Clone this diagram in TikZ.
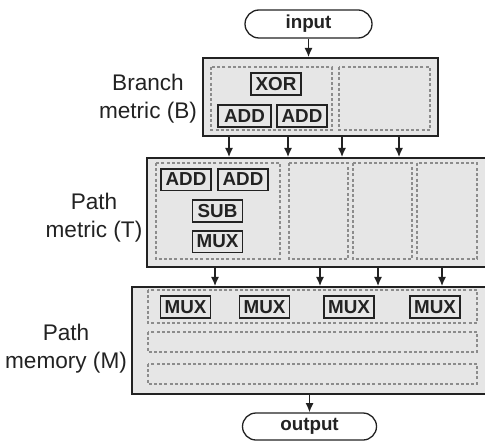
\documentclass[tikz,border=0pt]{standalone}
\usepackage{fontspec}
\setmainfont{Liberation Sans}
\usetikzlibrary{arrows.meta,shapes.misc}
\definecolor{boxfill}{HTML}{E6E6E6}
\definecolor{dashgray}{HTML}{8C8C8C}
\definecolor{ink}{HTML}{222222}
\tikzset{
  bigbox/.style={draw=ink, line width=0.85pt, fill=boxfill, inner sep=0pt, anchor=center},
  dbox/.style={draw=dashgray, line width=0.85pt, dash pattern=on 1.5pt off 1.1pt},
  unitbox/.style={draw=ink, line width=0.8pt, fill=boxfill, minimum width=25pt, minimum height=10.8pt, inner sep=0pt, text=ink, font=\fontsize{9.4}{10}\selectfont\bfseries},
  pill/.style={draw=ink, line width=0.65pt, fill=white, rounded rectangle, inner sep=0pt, text=ink, font=\fontsize{9.4}{10}\selectfont\bfseries},
  lab/.style={align=center, text=ink, inner sep=0pt, font=\fontsize{11.3}{14}\selectfont},
  arr/.style={draw=ink, line width=0.75pt, -{Latex[length=4.6pt,width=4pt]}}
}
\begin{document}
\begin{tikzpicture}[x=0.5pt,y=-0.5pt]
\useasboundingbox (0,0) rectangle (485,443);
\clip (0,0) rectangle (485,443);
% main blocks
\node[bigbox, minimum width=117.5pt, minimum height=39pt] (B) at (320.5,97) {};
\node[bigbox, minimum width=174pt, minimum height=54.5pt] (T) at (321,212.5) {};
\node[bigbox, minimum width=181.5pt, minimum height=53.5pt] (M) at (313.5,340.5) {};
% dashed groups
\draw[dbox] (211,67) rectangle (332,130);
\draw[dbox] (339,67) rectangle (430,130);
\draw[dbox] (156,163) rectangle (280,259);
\draw[dbox] (289,163) rectangle (348,259);
\draw[dbox] (353,163) rectangle (412,259);
\draw[dbox] (417,163) rectangle (477,259);
\draw[dbox] (148,290) rectangle (477,323);
\draw[dbox] (148,332) rectangle (477,352);
\draw[dbox] (148,364) rectangle (477,384);
% units
\node[unitbox] (xor) at (276,84) {XOR};
\node[unitbox, minimum width=26.5pt] (addb1) at (244.5,116) {ADD};
\node[unitbox] (addb2) at (302,116) {ADD};
\node[unitbox] (addt1) at (186,179.5) {ADD};
\node[unitbox] (addt2) at (243,179.5) {ADD};
\node[unitbox] (sub) at (217.5,211) {SUB};
\node[unitbox] (muxt) at (217.5,241.5) {MUX};
\node[unitbox] (mux1) at (185.5,307) {MUX};
\node[unitbox] (mux2) at (264.5,307) {MUX};
\node[unitbox] (mux3) at (349,307) {MUX};
\node[unitbox] (mux4) at (435,307) {MUX};
% input / output
\node[pill, minimum width=63.5pt, minimum height=14pt] (in) at (308.5,24) {input};
\node[pill, minimum width=67pt, minimum height=13.5pt] (out) at (309.5,426.5) {output};
% labels
\node[lab] (lb) at (148,99) {Branch\\metric (B)};
\node[lab] (lt) at (94,217.5) {Path\\metric (T)};
\node[lab] (lm) at (66,348.5) {Path\\memory (M)};
% connectors
\draw[arr] (in.south) -- (B.north -| in.south);
\foreach \x in {229,288,342,399}
  \draw[arr] (B.south -| \x,0) -- (T.north -| \x,0);
\foreach \x in {215,320,378,442}
  \draw[arr] (T.south -| \x,0) -- (M.north -| \x,0);
\draw[arr] (M.south -| out.north) -- (out.north);
\end{tikzpicture}
\end{document}
